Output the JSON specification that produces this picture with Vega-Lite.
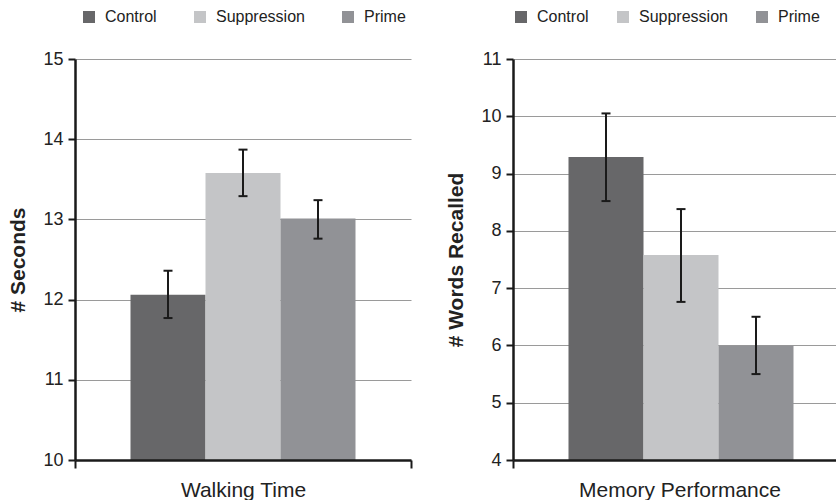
{
  "$schema": "https://vega.github.io/schema/vega-lite/v6.json",
  "padding": {"left": 7, "top": 9, "right": 0, "bottom": 0},
  "background": "white",
  "spacing": 33,
  "config": {
    "font": "Liberation Sans",
    "view": {"stroke": null},
    "axis": {"labelColor": "#222222", "titleColor": "#222222", "labelFont": "Liberation Sans", "titleFont": "Liberation Sans"},
    "legend": {"labelColor": "#222222", "labelFont": "Liberation Sans"}
  },
  "datasets": {
    "walk": [
      {"measure": "Walking Time", "condition": "Control", "mean": 12.06, "lo": 11.77, "hi": 12.36},
      {"measure": "Walking Time", "condition": "Suppression", "mean": 13.58, "lo": 13.29, "hi": 13.87},
      {"measure": "Walking Time", "condition": "Prime", "mean": 13.01, "lo": 12.76, "hi": 13.24}
    ],
    "memory": [
      {"measure": "Memory Performance", "condition": "Control", "mean": 9.29, "lo": 8.52, "hi": 10.05},
      {"measure": "Memory Performance", "condition": "Suppression", "mean": 7.58, "lo": 6.76, "hi": 8.38},
      {"measure": "Memory Performance", "condition": "Prime", "mean": 6.0, "lo": 5.5, "hi": 6.5}
    ]
  },
  "resolve": {"scale": {"color": "independent", "y": "independent", "x": "independent"}, "legend": {"color": "independent"}},
  "hconcat": [
    {
      "width": 336,
      "height": 401,
      "data": {"name": "walk"},
      "encoding": {
        "x": {"field": "measure", "type": "nominal", "scale": {"paddingInner": 0, "paddingOuter": 0},
          "axis": {"title": null, "labelAngle": 0, "labelFontSize": 21, "labelLimit": 500, "tickBand": "extent", "ticks": true, "tickSize": 8, "tickWidth": 2, "tickColor": "#1a1a1a", "domainColor": "#1a1a1a", "domainWidth": 2.5, "labelPadding": 11, "grid": false, "zindex": 1}},
        "xOffset": {"field": "condition", "type": "nominal", "sort": ["Control", "Suppression", "Prime"], "scale": {"paddingOuter": 0.74, "paddingInner": 0}}
      },
      "layer": [
        {
          "mark": {"type": "bar", "clip": true},
          "encoding": {
            "y": {"field": "mean", "type": "quantitative", "scale": {"domain": [10, 15], "zero": false},
              "axis": {"title": "# Seconds", "titleFontSize": 21, "titleFontWeight": "bold", "labelFontSize": 18, "format": "d", "values": [10, 11, 12, 13, 14, 15], "grid": true, "gridColor": "#9a9a9a", "gridWidth": 1, "domainColor": "#1a1a1a", "domainWidth": 2.5, "tickColor": "#1a1a1a", "tickWidth": 2, "tickSize": 7, "labelPadding": 5, "titlePadding": 14}},
            "color": {"field": "condition", "type": "nominal", "sort": ["Control", "Suppression", "Prime"],
              "scale": {"domain": ["Control", "Suppression", "Prime"], "range": ["#676769", "#c4c5c7", "#919296"]},
              "legend": {"title": null, "orient": "none", "direction": "horizontal", "legendX": 6, "legendY": -50, "symbolType": "square", "symbolSize": 144, "symbolStrokeWidth": 0, "labelFontSize": 16, "labelOffset": 8, "columnPadding": 35, "symbolOpacity": 1}}
          }
        },
        {
          "mark": {"type": "rule", "strokeWidth": 2, "color": "#1a1a1a"},
          "encoding": {"y": {"field": "lo", "type": "quantitative"}, "y2": {"field": "hi"}}
        },
        {
          "mark": {"type": "tick", "thickness": 2, "size": 9, "color": "#1a1a1a", "opacity": 1},
          "encoding": {"y": {"field": "lo", "type": "quantitative"}}
        },
        {
          "mark": {"type": "tick", "thickness": 2, "size": 9, "color": "#1a1a1a", "opacity": 1},
          "encoding": {"y": {"field": "hi", "type": "quantitative"}}
        }
      ]
    },
    {
      "width": 333,
      "height": 401,
      "data": {"name": "memory"},
      "encoding": {
        "x": {"field": "measure", "type": "nominal", "scale": {"paddingInner": 0, "paddingOuter": 0},
          "axis": {"title": null, "labelAngle": 0, "labelFontSize": 21, "labelLimit": 500, "tickBand": "extent", "ticks": true, "tickSize": 8, "tickWidth": 2, "tickColor": "#1a1a1a", "domainColor": "#1a1a1a", "domainWidth": 2.5, "labelPadding": 11, "grid": false, "zindex": 1}},
        "xOffset": {"field": "condition", "type": "nominal", "sort": ["Control", "Suppression", "Prime"], "scale": {"paddingOuter": 0.76, "paddingInner": 0}}
      },
      "layer": [
        {
          "mark": {"type": "bar", "clip": true},
          "encoding": {
            "y": {"field": "mean", "type": "quantitative", "scale": {"domain": [4, 11], "zero": false},
              "axis": {"title": "# Words Recalled", "titleFontSize": 21, "titleFontWeight": "bold", "labelFontSize": 18, "format": "d", "values": [4, 5, 6, 7, 8, 9, 10, 11], "grid": true, "gridColor": "#9a9a9a", "gridWidth": 1, "domainColor": "#1a1a1a", "domainWidth": 2.5, "tickColor": "#1a1a1a", "tickWidth": 2, "tickSize": 7, "labelPadding": 5, "titlePadding": 14}},
            "color": {"field": "condition", "type": "nominal", "sort": ["Control", "Suppression", "Prime"],
              "scale": {"domain": ["Control", "Suppression", "Prime"], "range": ["#676769", "#c4c5c7", "#919296"]},
              "legend": {"title": null, "orient": "none", "direction": "horizontal", "legendX": 0, "legendY": -50, "symbolType": "square", "symbolSize": 144, "symbolStrokeWidth": 0, "labelFontSize": 16, "labelOffset": 8, "columnPadding": 26, "symbolOpacity": 1}}
          }
        },
        {
          "mark": {"type": "rule", "strokeWidth": 2, "color": "#1a1a1a"},
          "encoding": {"y": {"field": "lo", "type": "quantitative"}, "y2": {"field": "hi"}}
        },
        {
          "mark": {"type": "tick", "thickness": 2, "size": 9, "color": "#1a1a1a", "opacity": 1},
          "encoding": {"y": {"field": "lo", "type": "quantitative"}}
        },
        {
          "mark": {"type": "tick", "thickness": 2, "size": 9, "color": "#1a1a1a", "opacity": 1},
          "encoding": {"y": {"field": "hi", "type": "quantitative"}}
        }
      ]
    }
  ]
}
